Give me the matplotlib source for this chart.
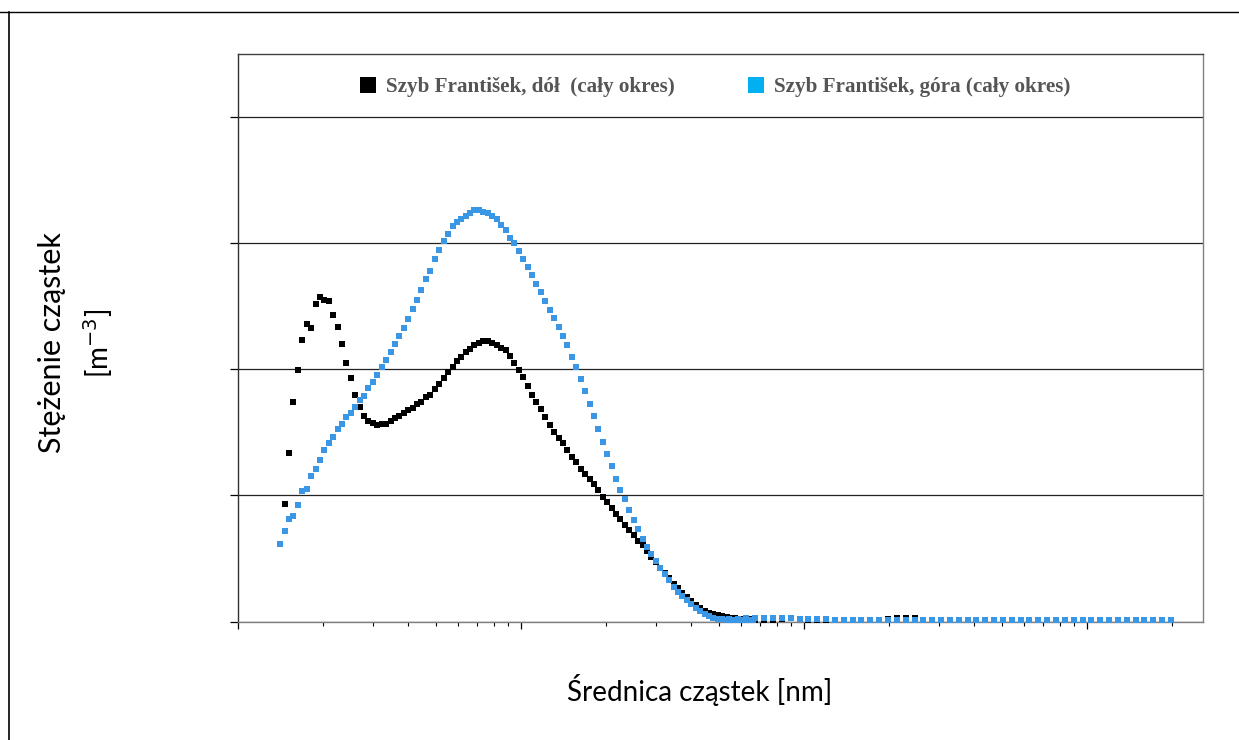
import matplotlib
matplotlib.use("Agg")
import matplotlib.pyplot as plt
from matplotlib.lines import Line2D
from matplotlib.ticker import LogLocator, NullFormatter, FixedLocator

# Particle diameters [nm] - SMPS channels (64 per decade) and APS channels (32 per decade)
smps_d = [14.1, 14.6, 15.1, 15.7, 16.3, 16.8, 17.5, 18.1, 18.8, 19.5,
          20.2, 20.9, 21.7, 22.5, 23.3, 24.1, 25.0, 25.9, 26.9, 27.9,
          28.9, 30.0, 31.1, 32.2, 33.4, 34.6, 35.9, 37.2, 38.5, 40.0,
          41.4, 42.9, 44.5, 46.1, 47.8, 49.6, 51.4, 53.3, 55.2, 57.3,
          59.4, 61.5, 63.8, 66.1, 68.5, 71.0, 73.7, 76.4, 79.1, 82.0,
          85.1, 88.2, 91.4, 94.7, 98.2, 101.8, 105.5, 109.4, 113.4, 117.6,
          121.9, 126.3, 131.0, 135.8, 140.7, 145.9, 151.2, 156.8, 162.5, 168.5,
          174.7, 181.1, 187.7, 194.6, 201.7, 209.1, 216.7, 224.7, 232.9, 241.4,
          250.3, 259.5, 269.0, 278.8, 289.0, 299.6, 310.6, 322.0, 333.8, 346.0,
          358.7, 371.8, 385.4, 399.5, 414.2, 429.4, 445.1, 461.4, 478.3, 495.8,
          514.0, 532.8, 552.3, 572.5, 593.5, 615.3, 637.8, 661.2]
aps_d = [542, 583, 626, 673, 723, 777, 835, 898, 965, 1037,
         1114, 1197, 1286, 1382, 1486, 1596, 1715, 1843, 1981, 2129,
         2288, 2458, 2642, 2839, 3051, 3278, 3523, 3786, 4068, 4371,
         4698, 5048, 5425, 5829, 6264, 6732, 7234, 7774, 8354, 8977,
         9647, 10370, 11140, 11970, 12860, 13820, 14860, 15960, 17150, 18430,
         19810]

# Concentration (relative units, one gridline = 1) - upper shaft (gora)
gora_smps = [0.615, 0.718, 0.814, 0.833, 0.920, 1.034, 1.052, 1.155, 1.209, 1.278,
             1.357, 1.413, 1.466, 1.524, 1.567, 1.622, 1.654, 1.702, 1.760, 1.789,
             1.855, 1.898, 1.956, 2.020, 2.073, 2.139, 2.203, 2.261, 2.330, 2.398,
             2.479, 2.553, 2.632, 2.717, 2.783, 2.876, 2.948, 3.016, 3.075, 3.133,
             3.165, 3.189, 3.215, 3.242, 3.260, 3.260, 3.250, 3.239, 3.215, 3.189,
             3.147, 3.101, 3.043, 2.998, 2.937, 2.877, 2.813, 2.744, 2.678, 2.611,
             2.542, 2.473, 2.404, 2.332, 2.261, 2.193, 2.097, 2.018, 1.920, 1.831,
             1.728, 1.630, 1.527, 1.421, 1.326, 1.235, 1.132, 1.042, 0.968, 0.885,
             0.806, 0.732, 0.652, 0.588, 0.538, 0.477, 0.427, 0.374, 0.326, 0.273,
             0.233, 0.199, 0.167, 0.141, 0.109, 0.082, 0.061, 0.042, 0.029, 0.021,
             0.018, 0.015, 0.013, 0.012, 0.012, 0.012, 0.011, 0.011]
gora_aps = [0.020, 0.022, 0.024, 0.025, 0.025, 0.026, 0.025, 0.024, 0.022, 0.020,
            0.018, 0.016, 0.015, 0.014, 0.013, 0.013, 0.012, 0.012, 0.012, 0.011,
            0.011, 0.010, 0.009, 0.009, 0.008, 0.008, 0.008, 0.008, 0.009, 0.009,
            0.009, 0.009, 0.010, 0.010, 0.010, 0.010, 0.010, 0.010, 0.010, 0.010,
            0.010, 0.010, 0.010, 0.010, 0.010, 0.010, 0.010, 0.010, 0.010, 0.010,
            0.010]

# lower shaft (dol) - starts from the second SMPS channel
dol_smps = [0.930, 1.334, 1.744, 1.998, 2.229, 2.358, 2.324, 2.519, 2.577,
            2.553, 2.545, 2.431, 2.332, 2.200, 2.052, 1.930, 1.795, 1.699, 1.628,
            1.593, 1.572, 1.561, 1.564, 1.569, 1.590, 1.612, 1.633, 1.652, 1.678,
            1.694, 1.726, 1.742, 1.784, 1.800, 1.843, 1.885, 1.930, 1.975, 2.022,
            2.062, 2.097, 2.134, 2.163, 2.195, 2.208, 2.221, 2.221, 2.208, 2.192,
            2.169, 2.151, 2.107, 2.050, 1.998, 1.938, 1.866, 1.797, 1.744, 1.684,
            1.625, 1.561, 1.505, 1.453, 1.413, 1.360, 1.307, 1.262, 1.209, 1.167,
            1.127, 1.087, 1.042, 0.988, 0.949, 0.901, 0.856, 0.811, 0.769, 0.729,
            0.684, 0.639, 0.604, 0.559, 0.511, 0.472, 0.427, 0.384, 0.348, 0.300,
            0.265, 0.228, 0.193, 0.159, 0.127, 0.106, 0.087, 0.069, 0.056, 0.050,
            0.040, 0.034, 0.029, 0.026, 0.022, 0.018, 0.016, 0.014]
dol_aps = [0.018, 0.016, 0.014, 0.012, 0.012, 0.014, 0.020, 0.030, 0.018, 0.012,
           0.010, 0.010, 0.010, 0.010, 0.010, 0.010, 0.012, 0.015, 0.020, 0.025,
           0.030, 0.030, 0.015, 0.010, 0.008, 0.008, 0.008, 0.008, 0.008, 0.008,
           0.008, 0.008, 0.008, 0.008, 0.008, 0.008, 0.008, 0.008, 0.008, 0.008,
           0.008, 0.008, 0.008, 0.008, 0.008, 0.008, 0.008, 0.008, 0.008, 0.008,
           0.008]

label_dol = "Szyb František, dół  (cały okres)"
label_gora = "Szyb František, góra (cały okres)"

color_gora = "#3a97e6"
color_gora_legend = "#00b0f0"

plt.rcParams["font.family"] = ["Lato", "DejaVu Sans"]

fig = plt.figure(figsize=(12.39, 7.40), dpi=100)
ax = fig.add_axes([238 / 1239, 1 - 621.5 / 740, 965 / 1239, 567.5 / 740])

dol_d = smps_d[1:] + aps_d
dol_y = dol_smps + dol_aps
gora_d = smps_d + aps_d
gora_y = gora_smps + gora_aps

ax.plot(dol_d, dol_y, ls="none", marker="s", ms=3.8, mew=0, color="black",
        clip_on=False, zorder=3)
ax.plot(gora_d, gora_y, ls="none", marker="s", ms=3.7, mew=0, color=color_gora,
        clip_on=False, zorder=4)

ax.set_xscale("log")
ax.set_xlim(10, 25700)
ax.set_ylim(0, 4.5)
ax.xaxis.set_major_locator(LogLocator(base=10, numticks=10))
ax.xaxis.set_minor_locator(LogLocator(base=10, subs=range(2, 10), numticks=20))
ax.xaxis.set_major_formatter(NullFormatter())
ax.xaxis.set_minor_formatter(NullFormatter())
ax.yaxis.set_major_locator(FixedLocator([0, 1, 2, 3, 4]))
ax.yaxis.set_major_formatter(NullFormatter())
ax.tick_params(axis="x", which="major", direction="out", length=5, width=0.9, color="black")
ax.tick_params(axis="x", which="minor", direction="out", length=3.2, width=0.8, color="black")
ax.tick_params(axis="y", which="major", direction="out", length=6, width=0.9, color="black")
ax.grid(True, axis="y", color="#222222", lw=0.9)
ax.set_axisbelow(True)
ax.spines["left"].set_color("#303030")
ax.spines["bottom"].set_color("#808080")
ax.spines["top"].set_color("#404040")
ax.spines["right"].set_color("#808080")
for s in ax.spines.values():
    s.set_linewidth(1.0)

handles = [
    Line2D([], [], ls="none", marker="s", ms=11, mew=0, color="black"),
    Line2D([], [], ls="none", marker="s", ms=11, mew=0, color=color_gora_legend),
]
leg = ax.legend(handles, [label_dol, label_gora], loc="center",
                bbox_to_anchor=((714 - 238) / 965, (621.5 - 87) / 567.5),
                ncol=2, frameon=False, handlelength=0.9, handletextpad=0.4,
                columnspacing=3.4,
                prop={"family": "Liberation Serif", "weight": "bold", "size": 15.2})
for t in leg.get_texts():
    t.set_color("#555555")

# axis titles
fig.text(52 / 1239, 1 - 343 / 740, "Stężenie cząstek", rotation=90,
         ha="center", va="center", fontsize=22)
fig.text(98 / 1239, 1 - 343 / 740, "[m$^{-3}$]", rotation=90,
         ha="center", va="center", fontsize=20)
fig.text(700 / 1239, 1 - 690 / 740, "Średnica cząstek [nm]",
         ha="center", va="center", fontsize=20)

# page frame lines around the figure
fig.add_artist(Line2D([0, 1], [1 - 12 / 740] * 2, color="black", lw=1.0,
                      transform=fig.transFigure))
fig.add_artist(Line2D([8.5 / 1239] * 2, [0, 1 - 12 / 740], color="black", lw=1.2,
                      transform=fig.transFigure))

fig.savefig("out.png", dpi=100)
